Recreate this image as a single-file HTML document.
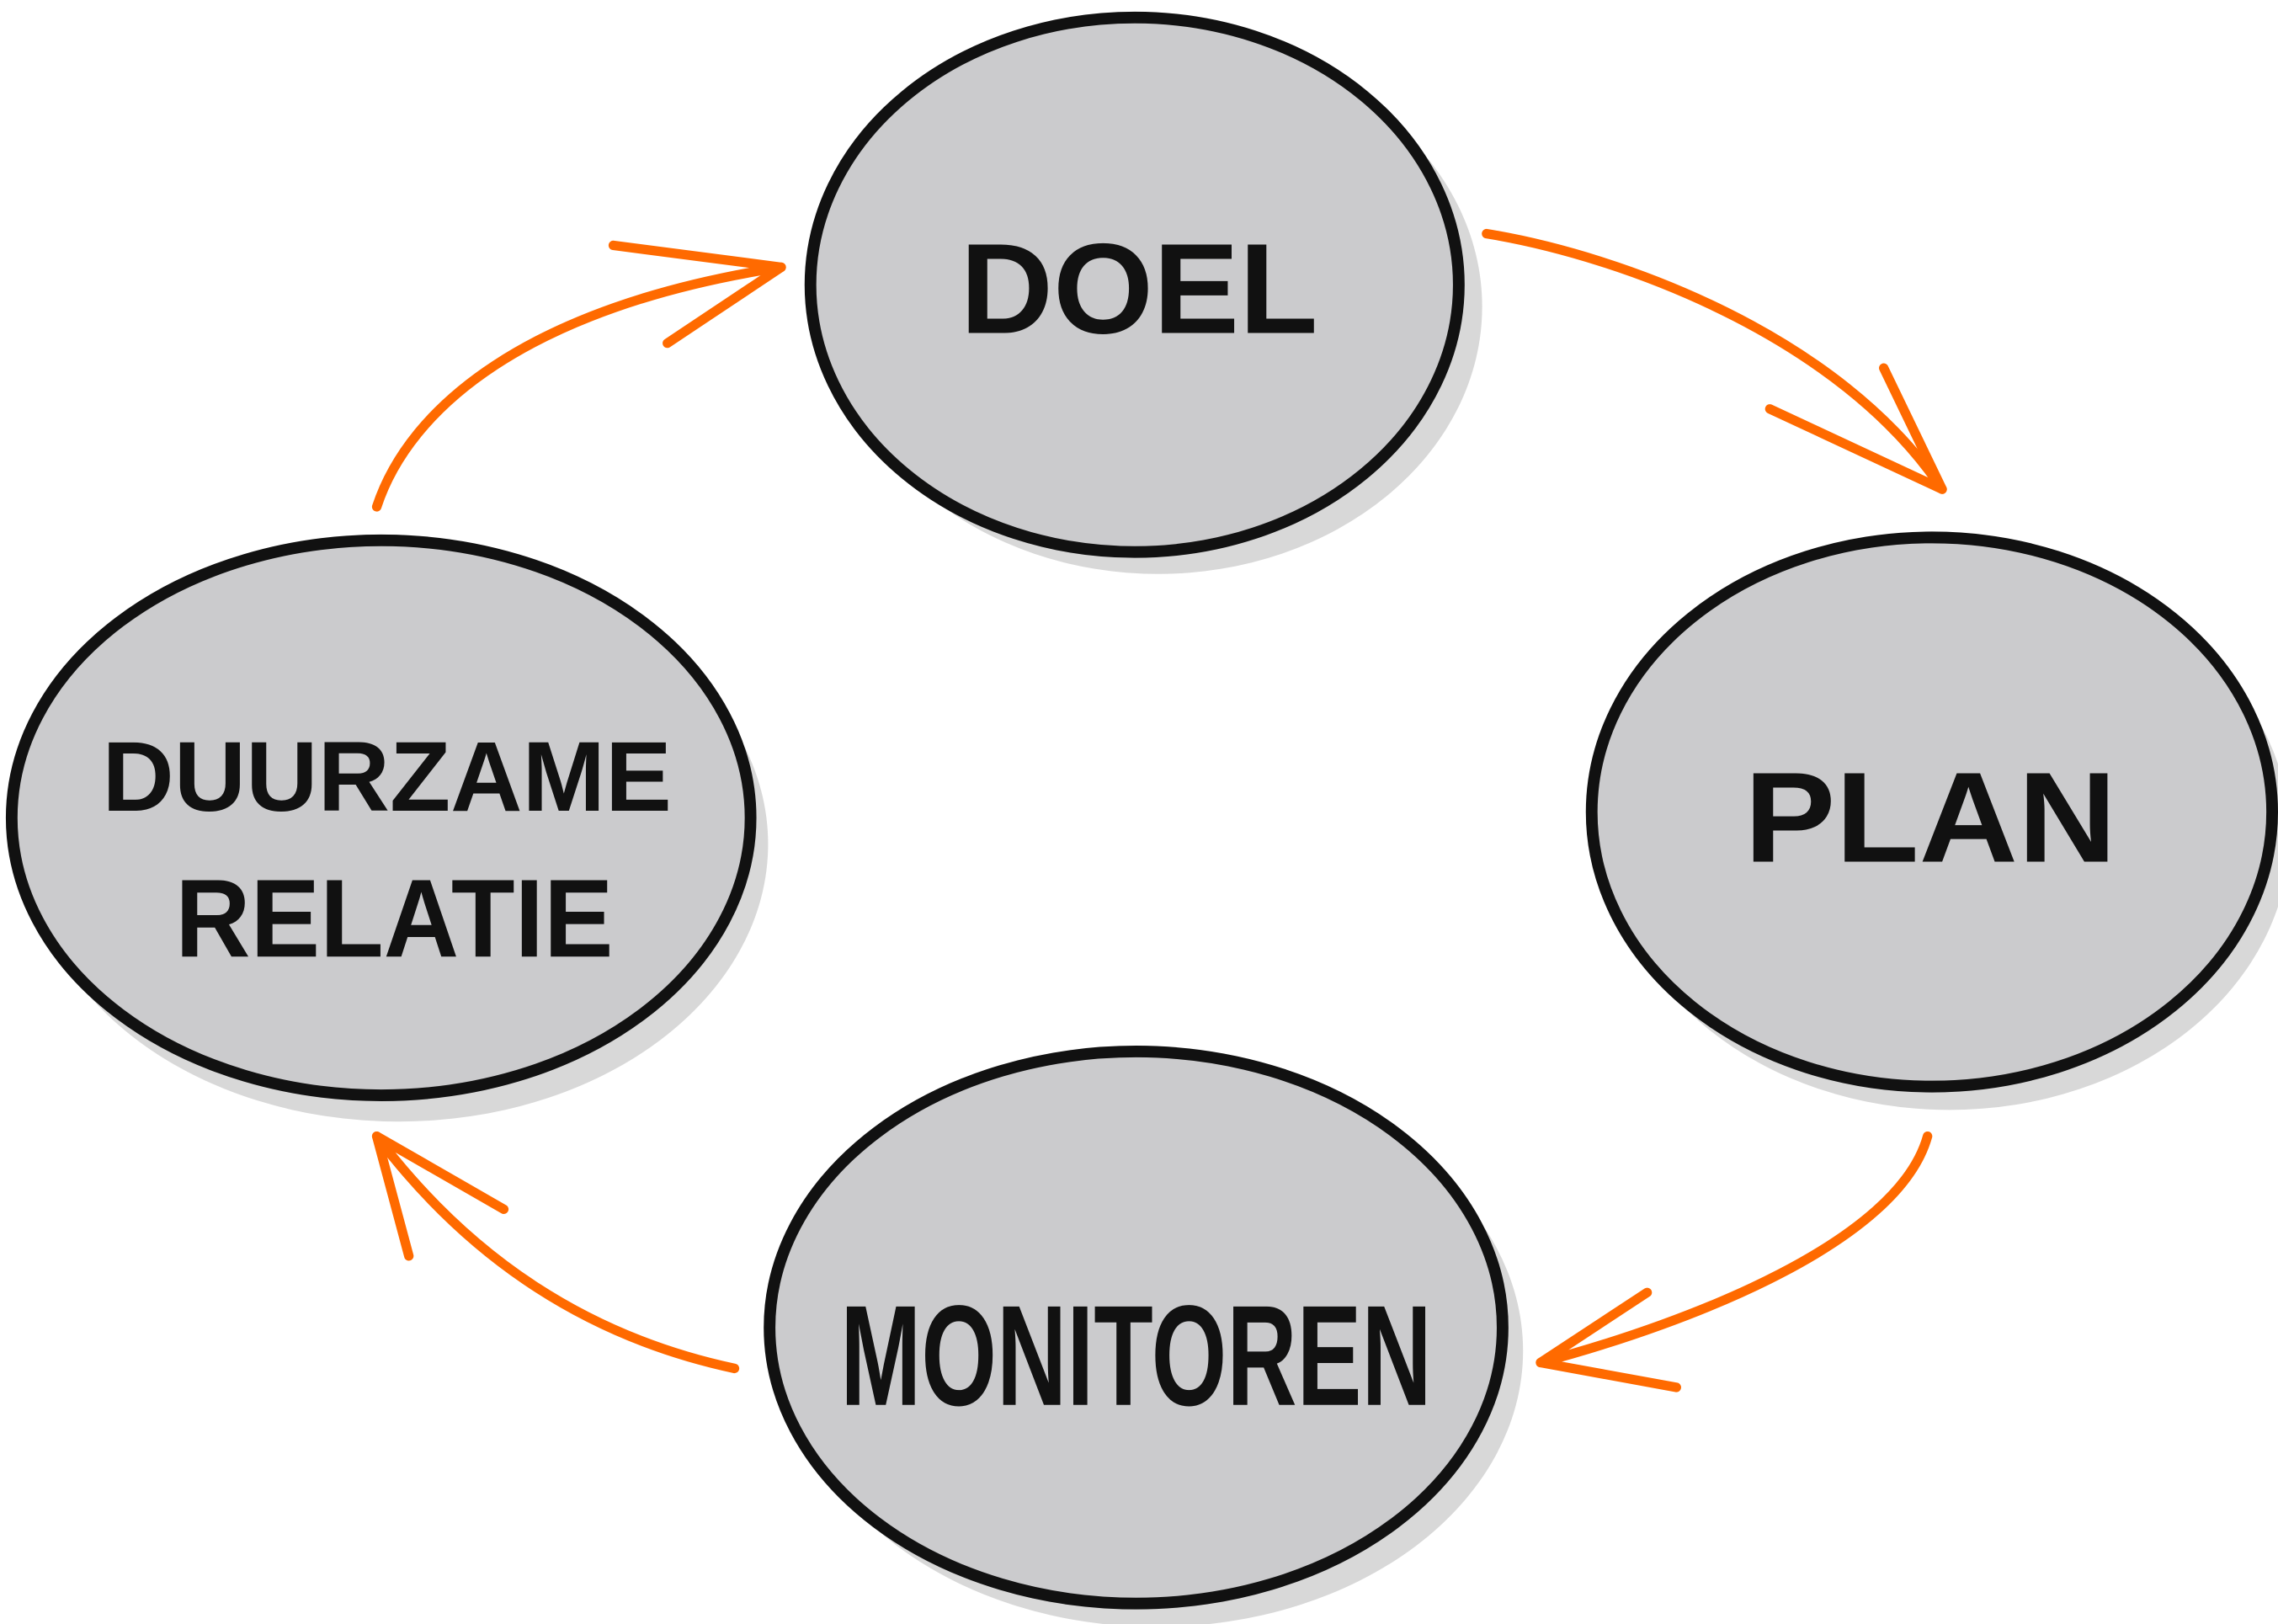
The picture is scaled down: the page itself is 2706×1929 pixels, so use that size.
<!DOCTYPE html>
<html><head><meta charset="utf-8">
<style>
html,body{margin:0;padding:0;background:#fff;}
svg{display:block;}
text{font-family:"Liberation Sans",sans-serif;font-weight:bold;fill:#111;}
</style></head>
<body>
<svg width="2706" height="1929" viewBox="0 0 1560 1112" preserveAspectRatio="none" xmlns="http://www.w3.org/2000/svg">
<g fill="#d8d8d8">
<ellipse cx="793" cy="210" rx="222" ry="183"/>
<ellipse cx="1335" cy="572" rx="233" ry="188"/>
<ellipse cx="792" cy="925" rx="251" ry="189"/>
<ellipse cx="273" cy="578" rx="253" ry="190"/>
</g>
<g fill="#cbcbcd" stroke="#111" stroke-width="8">
<ellipse cx="777" cy="195" rx="222" ry="183"/>
<ellipse cx="1323" cy="556" rx="233" ry="188"/>
<ellipse cx="778" cy="909" rx="251" ry="189"/>
<ellipse cx="261" cy="560" rx="253" ry="190"/>
</g>
<g fill="none" stroke="#ff6a00" stroke-width="6.5" stroke-linecap="round" stroke-linejoin="round">
<path d="M258 347 C280 280 360 210 535 183"/>
<path d="M420 168 L535 183 L457 235"/>
<path d="M1018 160 C1110 175 1260 230 1330 335"/>
<path d="M1290 252 L1330 335 L1212 280"/>
<path d="M1320 778 C1300 850 1160 905 1055 933"/>
<path d="M1128 885 L1055 933 L1148 950"/>
<path d="M503 937 C400 915 320 860 258 778"/>
<path d="M280 860 L258 778 L345 828"/>
</g>
<text x="780" y="228" font-size="88" text-anchor="middle" textLength="245" lengthAdjust="spacingAndGlyphs">DOEL</text>
<text x="1322" y="590" font-size="88" text-anchor="middle" textLength="255" lengthAdjust="spacingAndGlyphs">PLAN</text>
<text x="778" y="962" font-size="98" text-anchor="middle" textLength="405" lengthAdjust="spacingAndGlyphs">MONITOREN</text>
<text x="265" y="555" font-size="68" text-anchor="middle" textLength="390" lengthAdjust="spacingAndGlyphs">DUURZAME</text>
<text x="270" y="655" font-size="76" text-anchor="middle" textLength="300" lengthAdjust="spacingAndGlyphs">RELATIE</text>
</svg>
</body></html>
